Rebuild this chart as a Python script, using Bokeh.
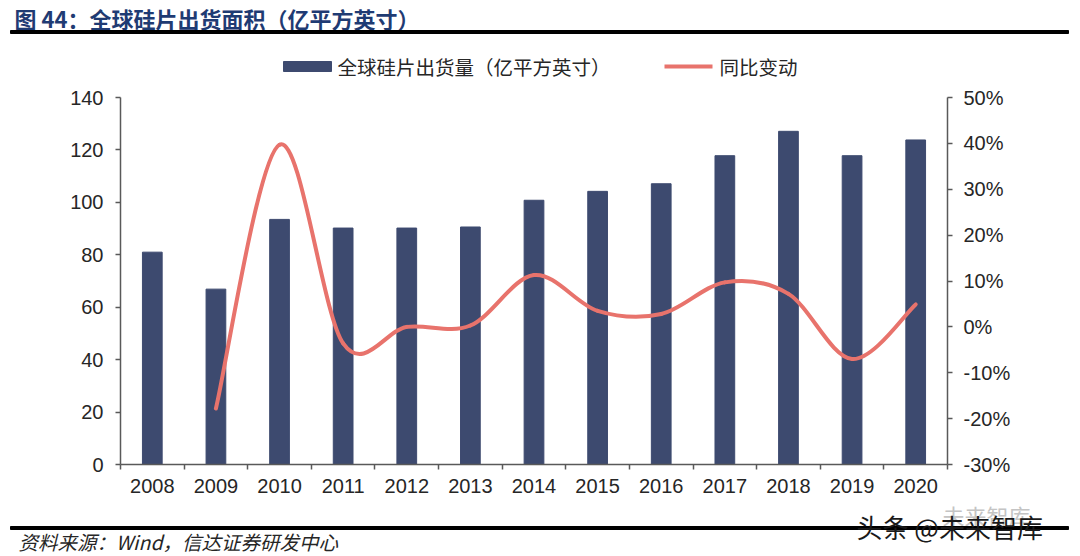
from bokeh.plotting import figure
from bokeh.layouts import column
from bokeh.models import (Range1d, LinearAxis, FixedTicker, PrintfTickFormatter,
                          ColumnDataSource)
from bokeh.core.properties import value
from bokeh.embed import file_html
from bokeh.resources import INLINE

# ---- data ----
years = ["2008", "2009", "2010", "2011", "2012", "2013", "2014",
         "2015", "2016", "2017", "2018", "2019", "2020"]
shipments = [81.0, 66.9, 93.5, 90.2, 90.2, 90.6, 100.8,
             104.2, 107.1, 117.8, 127.1, 117.8, 123.8]
yoy_years = ["2009", "2010", "2011", "2012", "2013", "2014",
             "2015", "2016", "2017", "2018", "2019", "2020"]
yoy_pct = [-17.8, 39.7, -3.6, 0.0, 0.3, 11.3, 3.5, 2.8, 9.7, 7.2, -7.0, 4.9]
left_ticks = [0, 20, 40, 60, 80, 100, 120, 140]
right_ticks = [-30, -20, -10, 0, 10, 20, 30, 40, 50]

title_text = "图 44：全球硅片出货面积（亿平方英寸）"
bar_name = "全球硅片出货量（亿平方英寸）"
line_name = "同比变动"
source_text = "资料来源：Wind，信达证券研发中心"
watermark_main = "头条 @未来智库"
watermark_faint = "未来智库"

BAR = "#3d4a6f"
LINE = "#e8736c"
AX = "#595959"
TXT = "#262626"
CJK = "Noto Sans CJK SC"
LAT = "Liberation Sans"

W = 1076
HEAD_H = 80
CHART_TOP, CHART_BOT = HEAD_H, 498
FOOT_H = 555 - CHART_BOT
FL, FR, FT, FB = 120, 947, 97, 464  # frame in window coordinates


def no_align(f):
    if "frame_align" in f.properties():
        f.frame_align = False
    return f


def blank(height):
    f = figure(width=W, height=height, output_backend="svg", toolbar_location=None,
               x_range=Range1d(0, W), y_range=Range1d(height, 0),
               min_border=0, x_axis_type=None, y_axis_type=None)
    f.outline_line_color = None
    f.xgrid.visible = False
    f.ygrid.visible = False
    f.background_fill_color = "white"
    f.border_fill_color = "white"
    return no_align(f)


# ---------------- header: title, rule, legend ----------------
head = blank(HEAD_H)
head.text(x=[14], y=[17], text=[title_text], text_font=value(CJK),
          text_font_style="bold", text_font_size="22px", text_color="#1f3b73",
          text_baseline="middle", text_align="left")
head.quad(left=[10], right=[1068], top=[30], bottom=[33], color="black")
# legend swatches and labels
head.quad(left=[283], right=[331], top=[61], bottom=[71], color=BAR)
head.text(x=[337], y=[66], text=[bar_name], text_font=value(CJK),
          text_font_size="19.5px", text_color=TXT, text_baseline="middle",
          text_align="left")
head.segment(x0=[664], y0=[66], x1=[712], y1=[66], line_color=LINE, line_width=4)
head.text(x=[719], y=[66], text=[line_name], text_font=value(CJK),
          text_font_size="19.5px", text_color=TXT, text_baseline="middle",
          text_align="left")

# ---------------- chart ----------------
p = figure(width=W, height=CHART_BOT - CHART_TOP, output_backend="svg",
           toolbar_location=None,
           x_range=Range1d(-0.5, len(years) - 0.5), y_range=Range1d(0, 140),
           min_border_left=FL, min_border_right=W - FR,
           min_border_top=FT - CHART_TOP, min_border_bottom=CHART_BOT - FB,
           x_axis_type=None, y_axis_type=None)
no_align(p)
p.outline_line_color = None
p.xgrid.visible = False
p.ygrid.visible = False
p.background_fill_color = "white"
p.border_fill_color = "white"
p.extra_y_ranges = {"pct": Range1d(-30, 50)}

xi = list(range(len(years)))
p.vbar(x=xi, top=shipments, width=0.31, color=BAR)

# smooth curve through the yoy points (Catmull-Rom as cubic Bezier segments)
px = [years.index(y) for y in yoy_years]
py = yoy_pct
n = len(px)
seg = dict(x0=[], y0=[], x1=[], y1=[], cx0=[], cy0=[], cx1=[], cy1=[])
for i in range(n - 1):
    a, b, c, d = max(i - 1, 0), i, i + 1, min(i + 2, n - 1)
    seg["x0"].append(px[b]); seg["y0"].append(py[b])
    seg["x1"].append(px[c]); seg["y1"].append(py[c])
    seg["cx0"].append(px[b] + (px[c] - px[a]) / 6.0)
    seg["cy0"].append(py[b] + (py[c] - py[a]) / 6.0)
    seg["cx1"].append(px[c] - (px[d] - px[b]) / 6.0)
    seg["cy1"].append(py[c] - (py[d] - py[b]) / 6.0)
p.bezier(x0="x0", y0="y0", x1="x1", y1="y1", cx0="cx0", cy0="cy0",
         cx1="cx1", cy1="cy1", source=ColumnDataSource(seg),
         line_color=LINE, line_width=4, line_cap="round",
         y_range_name="pct")


def style(ax):
    ax.axis_line_color = AX
    ax.axis_line_width = 1.5
    ax.major_tick_line_color = AX
    ax.major_tick_line_width = 1.5
    ax.major_tick_in = 0
    ax.major_tick_out = 5
    ax.minor_tick_line_color = None
    ax.major_label_text_font = LAT
    ax.major_label_text_font_size = "20px"
    ax.major_label_text_color = TXT


xa = LinearAxis(ticker=FixedTicker(ticks=xi,
                                   minor_ticks=[i - 0.5 for i in range(len(years) + 1)]),
                major_label_overrides={i: y for i, y in enumerate(years)})
style(xa)
xa.major_tick_line_color = None
xa.minor_tick_line_color = AX
xa.minor_tick_line_width = 1.5
xa.minor_tick_in = 0
xa.minor_tick_out = 5
xa.major_label_standoff = 9
p.add_layout(xa, "below")

ya = LinearAxis(ticker=FixedTicker(ticks=left_ticks))
style(ya)
ya.major_label_standoff = 12
p.add_layout(ya, "left")

yb = LinearAxis(y_range_name="pct", ticker=FixedTicker(ticks=right_ticks),
                formatter=PrintfTickFormatter(format="%d%%"))
style(yb)
yb.major_label_standoff = 11
p.add_layout(yb, "right")

# ---------------- footer: rule, source, watermark ----------------
foot = blank(FOOT_H)
y0 = CHART_BOT
foot.text(x=[942], y=[514 - y0], text=[watermark_faint], text_font=value(CJK),
          text_font_size="22px", text_color="#c4c4c4", text_baseline="middle",
          text_align="left")
foot.quad(left=[10], right=[1068], top=[526 - y0], bottom=[529 - y0], color="black")
foot.text(x=[18], y=[541 - y0], text=[source_text], text_font=value(CJK),
          text_font_style="italic", text_font_size="19.5px", text_color=TXT,
          text_baseline="middle", text_align="left")
foot.text(x=[856], y=[526 - y0], text=[watermark_main], text_font=value(CJK),
          text_font_size="26px", text_color="#1a1a1a", text_baseline="middle",
          text_align="left")

layout = column(head, p, foot, spacing=0)
open("out.html", "w").write(file_html(layout, INLINE))
